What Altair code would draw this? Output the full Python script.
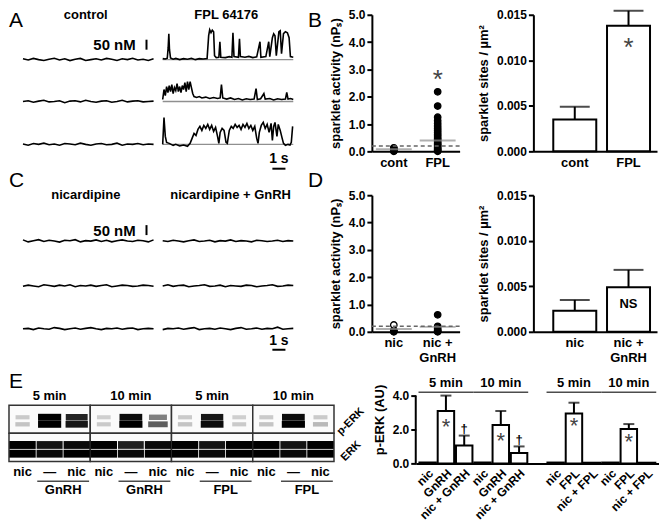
import altair as alt
import pandas as pd

FONT = "Liberation Sans"
GREY = "#8f8f8f"

# ---------------- Panels A and C: sparklet traces (nM above baseline) ----------------
TRACE_DT = 0.4  # s between samples of the quiet traces
control_1 = [4, -2, 6, 0, -4, 2, 7, -2, 4, -5, 2, 6, -4, 0, 4, -2, 6, 2, -4, 4, 0, 7, -2, 2, -4, 4]
control_2 = [0, 4, -4, 2, 6, -2, 0, 4, -6, 2, 4, -2, 6, 0, -4, 2, 4, -4, 0, 6, -2, 2, 4, -2, 0, 2]
control_3 = [2, -4, 4, 0, 6, -2, 2, -4, 4, 2, -2, 6, 0, -4, 2, 4, -2, 0, 6, -4, 2, 0, 4, -2, 2, 0]
nic_1 = [6, -4, 2, 7, -2, 4, 0, -5, 4, 2, 7, -4, 2, 0, 6, -2, 4, -4, 2, 6, 0, -2, 4, 2, -4, 6]
nic_2 = [-2, 4, 0, -4, 6, 2, -2, 4, 0, 6, -4, 2, 0, 4, -2, 2, 6, -4, 0, 4, 2, -2, 0, 4, 2, -2]
nic_3 = [0, 2, -4, 4, 0, -2, 6, 2, -4, 0, 4, -2, 2, 6, 0, -4, 2, 0, 4, -2, 2, 4, -4, 0, 2, 0]
nic_gnrh_1 = [2, -2, 4, 0, -4, 2, 6, -2, 0, 4, -4, 2, 0, 6, -2, 2, 0, -4, 4, 2, -2, 0, 4, -2, 2, 0]
nic_gnrh_2 = [0, 6, -2, 2, 4, -4, 0, 2, 6, -2, 0, 4, -4, 2, 0, -2, 4, 2, -4, 0, 2, 6, -2, 0, 4, 2]
nic_gnrh_3 = [-4, 2, 0, 4, -2, 2, 6, -4, 0, 2, -2, 4, 0, -4, 2, 6, -2, 0, 4, -2, 2, 0, 8, -2, 0, 2]

# FPL 64176 traces: (time s, nM)
fpl_1 = [(0.0, 5), (0.2, 3), (0.35, 7), (0.42, 60), (0.47, 130), (0.52, 50), (0.6, 8), (0.8, 2),
         (1.0, 6), (1.3, 0), (1.6, 5), (1.9, 2), (2.2, 7), (2.5, 0), (2.8, 5), (3.1, 3), (3.4, 6),
         (3.52, 120), (3.6, 150), (3.7, 135), (3.8, 148), (3.9, 140), (3.97, 20), (4.1, 10),
         (4.3, 12), (4.38, 90), (4.45, 12), (4.8, 10), (5.1, 15), (5.3, 12), (5.38, 135),
         (5.46, 15), (5.8, 12), (5.88, 105), (5.95, 15), (6.3, 12), (6.6, 16), (6.9, 10),
         (7.2, 14), (7.45, 90), (7.52, 12), (7.9, 15), (8.12, 90), (8.2, 15), (8.4, 110),
         (8.5, 130), (8.6, 120), (8.7, 20), (8.9, 140), (9.0, 145), (9.1, 30), (9.25, 130),
         (9.4, 140), (9.55, 135), (9.68, 110), (9.78, 15), (10.0, 12)]
fpl_2 = [(0.0, 10), (0.1, 60), (0.2, 30), (0.3, 75), (0.4, 45), (0.5, 80), (0.6, 50), (0.7, 85),
         (0.8, 40), (0.9, 70), (1.0, 55), (1.1, 90), (1.2, 50), (1.3, 75), (1.4, 45), (1.5, 80),
         (1.6, 60), (1.7, 95), (1.8, 50), (1.9, 100), (2.0, 60), (2.1, 100), (2.2, 70), (2.3, 40),
         (2.4, 25), (2.6, 20), (2.8, 25), (3.0, 18), (3.3, 22), (3.6, 15), (3.9, 20), (4.2, 15),
         (4.4, 18), (4.5, 85), (4.6, 18), (4.9, 12), (5.2, 18), (5.5, 10), (5.8, 15), (6.1, 8),
         (6.4, 14), (6.7, 10), (7.0, 12), (7.15, 65), (7.25, 10), (7.5, 14), (7.75, 40),
         (7.85, 12), (8.2, 15), (8.5, 8), (8.8, 14), (9.1, 10), (9.4, 12), (9.5, 45), (9.6, 12),
         (9.8, 15), (10.0, 10)]
fpl_3 = [(0.0, 0), (0.1, 135), (0.2, 40), (0.3, 10), (0.5, 5), (0.8, -5), (1.0, 0), (1.3, -8),
         (1.6, -3), (1.9, -10), (2.1, 5), (2.25, 30), (2.4, 55), (2.55, 45), (2.7, 75), (2.85, 90),
         (3.0, 70), (3.15, 95), (3.3, 80), (3.45, 100), (3.6, 75), (3.75, 95), (3.9, 65),
         (4.05, 85), (4.2, 40), (4.3, 5), (4.4, 60), (4.55, 80), (4.7, 70), (4.85, 10), (4.95, 5),
         (5.1, 70), (5.25, 90), (5.4, 80), (5.55, 100), (5.7, 85), (5.85, 95), (6.0, 75),
         (6.15, 100), (6.3, 85), (6.45, 105), (6.6, 80), (6.75, 95), (6.9, 70), (7.05, 90),
         (7.2, 30), (7.3, 5), (7.4, 60), (7.55, 95), (7.7, 110), (7.85, 80), (8.0, 100),
         (8.15, 60), (8.3, 105), (8.4, 20), (8.5, 90), (8.6, 110), (8.75, 40), (8.85, 100),
         (9.0, 70), (9.15, 30), (9.25, 5), (9.4, -5), (9.6, 0), (9.75, -3), (9.85, 10), (9.95, 90)]

COL_GAP = 10.7  # s from the start of the left trace column to the right one

# ---------------- Panels B and D: scatter (nPs) and sparklet sites ----------------
b_cats = ["cont", "FPL"]
b_points_cont = [0.13, 0.10, 0.08, 0.06, 0.04, 0.02, 0.0]
b_points_fpl = [2.18, 1.66, 1.25, 1.12, 1.02, 0.93, 0.85, 0.77, 0.70, 0.63, 0.56, 0.49, 0.43,
                0.37, 0.31, 0.26, 0.21, 0.16, 0.11, 0.07, 0.03, 0.0]
b_means = [0.08, 0.40]
b_sites = [0.0035, 0.0138]
b_sites_top = [0.0049, 0.01544]

d_cats = ["nic", "nic +|GnRH"]
d_points_nic = [0.06, 0.02, 0.0]
d_points_nic_open = [0.25]
d_points_nicg = [0.62, 0.20, 0.12, 0.06, 0.02, 0.0]
d_means = [0.10, 0.18]
d_sites = [0.0023, 0.0049]
d_sites_top = [0.0035, 0.0068]

THRESHOLD = 0.2

# ---------------- Panel E ----------------
perk_labels = ["nic", "GnRH", "nic + GnRH", "nic", "GnRH", "nic + GnRH",
               "nic", "FPL", "nic + FPL", "nic", "FPL", "nic + FPL"]
perk_mean = [0.06, 3.09, 1.06, 0.05, 2.26, 0.62, 0.05, 2.95, 0.04, 0.05, 2.03, 0.04]
perk_top = [None, 4.0, 1.64, None, 3.09, 1.00, None, 3.58, None, None, 2.32, None]
perk_note = ["", "*", "†", "", "*", "†", "", "*", "", "", "*", ""]
perk_note_y = [None, 2.36, 2.03, None, 1.57, 1.38, None, 2.42, None, None, 1.48, None]
time_groups = ["5 min", "10 min", "5 min", "10 min"]
treat_groups = ["GnRH", "GnRH", "FPL", "FPL"]
lane_labels = ["nic", "—", "nic"]

# blot band intensities (0 = none, 1 = saturated), 12 lanes
perk_p44 = [0.12, 1.0, 0.85, 0.10, 0.95, 0.45, 0.12, 0.9, 0.10, 0.12, 0.95, 0.12]
perk_p42 = [0.15, 1.0, 0.90, 0.12, 1.0, 0.60, 0.15, 0.95, 0.12, 0.15, 1.0, 0.20]
erk_p44 = [1.0, 0.9, 0.95, 1.0, 0.85, 0.95, 1.0, 0.9, 1.0, 1.0, 0.9, 1.0]
erk_p42 = [1.0, 0.95, 1.0, 1.0, 0.95, 1.0, 1.0, 0.95, 1.0, 1.0, 0.95, 1.0]
band_rows = {"p44_p": 0.86, "p42_p": 1.36, "p44_t": 2.83, "p42_t": 3.45}  # migration, blot units
BAND_SHAPE = "M-1,-0.3L1,-0.3L1,0.3L-1,0.3Z"


def label_at(txt, x, y, size=21, weight="normal", angle=0, align="left"):
    return alt.Chart(pd.DataFrame({"t": [txt]})).mark_text(
        fontSize=size, fontWeight=weight, align=align, baseline="alphabetic", fill="black", angle=angle
    ).encode(x=alt.value(x), y=alt.value(y), text="t:N")


def trace_panel(left, right, heads, head_t, row_base, ydom, bar_y, bar_label_y, one_s_text_y,
                one_s_bar_y, grey_right, letter_ch, letter_y, head_y):
    rows = []
    for col, traces in enumerate([left, right]):
        for r, tr in enumerate(traces):
            for t, v in tr:
                rows.append({"t": t + col * COL_GAP, "nM": v + row_base[r], "trace": f"{col}-{r}"})
    df = pd.DataFrame(rows)
    xs = alt.Scale(domain=[-1.07, 21.07], nice=False, zero=False)
    ys = alt.Scale(domain=ydom, nice=False, zero=False)
    X = alt.X("t:Q", scale=xs, axis=None)
    layers = []
    if grey_right:
        g = pd.DataFrame({"t": [COL_GAP] * 3, "t2": [COL_GAP + 10] * 3, "nM": row_base})
        layers.append(alt.Chart(g).mark_rule(color=GREY, strokeWidth=1.3).encode(
            x=X, x2="t2:Q", y=alt.Y("nM:Q", scale=ys, axis=None)))
    layers.append(alt.Chart(df).mark_line(color="black", strokeWidth=1.6).encode(
        x=X, y=alt.Y("nM:Q", scale=ys, axis=None), detail="trace:N"))
    hd = pd.DataFrame({"t": head_t, "label": heads})
    layers.append(alt.Chart(hd).mark_text(fontSize=13, fontWeight="bold", baseline="alphabetic").encode(
        x=X, y=alt.value(head_y), text="label:N"))
    sb = pd.DataFrame({"t": [9.46], "lo": [bar_y[0]], "hi": [bar_y[1]], "lab_t": [8.63],
                       "lab_y": [bar_label_y], "label": ["50 nM"]})
    layers.append(alt.Chart(sb).mark_rule(strokeWidth=2, color="black").encode(
        x=X, y=alt.Y("lo:Q", scale=ys, axis=None), y2="hi:Q"))
    layers.append(alt.Chart(sb).mark_text(fontSize=15, fontWeight="bold", align="right",
                                          baseline="alphabetic").encode(
        x=alt.X("lab_t:Q", scale=xs, axis=None), y=alt.Y("lab_y:Q", scale=ys, axis=None), text="label:N"))
    ts = pd.DataFrame({"t": [19.1], "t2": [20.1], "mid": [19.6], "bar": [one_s_bar_y],
                       "ty": [one_s_text_y], "label": ["1 s"]})
    layers.append(alt.Chart(ts).mark_rule(strokeWidth=2, color="black").encode(
        x=X, x2="t2:Q", y=alt.Y("bar:Q", scale=ys, axis=None)))
    layers.append(alt.Chart(ts).mark_text(fontSize=14, fontWeight="bold", baseline="alphabetic").encode(
        x=alt.X("mid:Q", scale=xs, axis=None), y=alt.Y("ty:Q", scale=ys, axis=None), text="label:N"))
    layers.append(label_at(letter_ch, 0, letter_y))
    return alt.layer(*layers).properties(width=290, height=137)


AX_X = dict(title=None, ticks=False, labelAngle=0, labelPadding=5, labelFontSize=13,
            labelExpr="split(datum.value, '|')", domainWidth=2)


def scatter_panel(cats, pts, means, star_y, letter_ch, letter_y):
    df = pd.DataFrame(pts, columns=["cat", "v", "fill"])
    xs = alt.Scale(domain=cats, paddingInner=0, paddingOuter=0)
    ys = alt.Scale(domain=[0, 5], nice=False)
    X = alt.X("cat:N", scale=xs, axis=alt.Axis(**AX_X))
    Y = alt.Y("v:Q", scale=ys, axis=alt.Axis(title="sparklet activity (nPₛ)", values=[0, 1, 2, 3, 4, 5],
                                             format=".1f", titlePadding=6))
    m = pd.DataFrame({"cat": cats, "v": means})
    thr = pd.DataFrame({"v": [THRESHOLD]})
    layers = [
        alt.Chart(df).mark_point(filled=True, size=42, stroke="black", strokeWidth=1.3, opacity=1).encode(
            x=X, y=Y, fill=alt.Fill("fill:N", scale=None)),
        alt.Chart(m).mark_tick(size=36, thickness=2, color=GREY).encode(x=X, y=Y),
        alt.Chart(thr).mark_rule(strokeDash=[4, 3], strokeWidth=1.5, color="#666").encode(y=Y),
    ]
    if star_y is not None:
        s = pd.DataFrame({"cat": [cats[1]], "v": [star_y], "t": ["*"]})
        layers.append(alt.Chart(s).mark_text(fontSize=26, fill="#444", dy=4).encode(x=X, y=Y, text="t:N"))
    layers.append(label_at(letter_ch, -64, letter_y))
    return alt.layer(*layers).properties(width=88, height=137)


def bar_panel(cats, vals, tops, note, note_y):
    xs = alt.Scale(domain=cats, paddingInner=0.2, paddingOuter=0.25, align=0.74)
    ys = alt.Scale(domain=[0, 0.015], nice=False)
    X = alt.X("cat:N", scale=xs, axis=alt.Axis(**AX_X))
    Y = alt.Y("v:Q", scale=ys, axis=alt.Axis(title="sparklet sites / µm²", values=[0, 0.005, 0.01, 0.015],
                                             format=".3f", titlePadding=6))
    df = pd.DataFrame({"cat": cats, "v": vals, "top": tops})
    n = pd.DataFrame({"cat": [cats[1]], "v": [note_y], "t": [note]})
    layers = [
        alt.Chart(df).mark_rule(strokeWidth=2, color="black").encode(x=X, y=Y, y2="top:Q"),
        alt.Chart(df).mark_tick(size=30, thickness=2, color="black").encode(
            x=X, y=alt.Y("top:Q", scale=ys)),
        alt.Chart(df).mark_bar(fill="white", stroke="black", strokeWidth=2).encode(x=X, y=Y),
    ]
    if note == "*":
        layers.append(alt.Chart(n).mark_text(fontSize=26, fill="#444", dy=4).encode(x=X, y=Y, text="t:N"))
    else:
        layers.append(alt.Chart(n).mark_text(fontSize=13, fontWeight="bold", fill="black").encode(
            x=X, y=Y, text="t:N"))
    return alt.layer(*layers).properties(width=124, height=137)


# ---------------- build A, B, C, D ----------------
quiet = lambda vals: [(i * TRACE_DT, v) for i, v in enumerate(vals)]

panel_a = trace_panel([quiet(control_1), quiet(control_2), quiet(control_3)], [fpl_1, fpl_2, fpl_3],
                      ["control", "FPL 64176"], [4.81, 15.57], [425, 215, 0], [-35, 650],
                      (475, 525), 472, -95, -122, True, "A", 12, 4)
b_pts = [("cont", v, "black") for v in b_points_cont] + [("FPL", v, "black") for v in b_points_fpl]
panel_b1 = scatter_panel(b_cats, b_pts, b_means, 2.75, "B", 12)
panel_b2 = bar_panel(b_cats, b_sites, b_sites_top, "*", 0.0118)

panel_c = trace_panel([quiet(nic_1), quiet(nic_2), quiet(nic_3)],
                      [quiet(nic_gnrh_1), quiet(nic_gnrh_2), quiet(nic_gnrh_3)],
                      ["nicardipine", "nicardipine + GnRH"], [4.81, 15.9], [420, 195, -20], [-35, 650],
                      (450, 500), 447, -100, -125, False, "C", -8, 4)
d_pts = ([("nic", v, "black") for v in d_points_nic] + [("nic", v, "white") for v in d_points_nic_open]
         + [("nic +|GnRH", v, "black") for v in d_points_nicg])
panel_d1 = scatter_panel(d_cats, d_pts, d_means, None, "D", -8)
panel_d2 = bar_panel(d_cats, d_sites, d_sites_top, "NS", 0.0031)

# ---------------- E: blots ----------------
lx = alt.Scale(domain=[-0.5, 11.5], nice=False, zero=False)
by = alt.Scale(domain=[-2.1, 4.14], reverse=True, nice=False, zero=False)
LX = alt.X("lane:Q", scale=lx, axis=None)
BY = alt.Y("y:Q", scale=by, axis=None)

boxes = pd.DataFrame({
    "lane": [3 * k - 0.5 for k in range(4)] * 2,
    "lane2": [3 * k + 2.5 for k in range(4)] * 2,
    "y": [0] * 4 + [2] * 4, "y2": [2] * 4 + [4] * 4})
perk_df = pd.DataFrame(
    [{"lane": i, "y": band_rows["p44_p"], "v": perk_p44[i]} for i in range(12)]
    + [{"lane": i, "y": band_rows["p42_p"], "v": perk_p42[i]} for i in range(12)])
erk_df = pd.DataFrame(
    [{"lane": i, "y": band_rows["p44_t"], "v": erk_p44[i]} for i in range(12)]
    + [{"lane": i, "y": band_rows["p42_t"], "v": erk_p42[i]} for i in range(12)])
head_df = pd.DataFrame({"lane": [3 * k + 1 for k in range(4)], "label": time_groups})
lane_df = pd.DataFrame({"lane": list(range(12)), "label": lane_labels * 4})
treat_df = pd.DataFrame({"lane": [3 * k + 1.5 for k in range(4)], "label": treat_groups})

blot = alt.layer(
    alt.Chart(boxes).mark_rect(fill="#fbfbfb", stroke="#333", strokeWidth=1.5).encode(
        x=LX, x2="lane2:Q", y=BY, y2="y2:Q"),
    alt.Chart(perk_df).mark_point(shape=BAND_SHAPE, filled=True, color="black", strokeWidth=0).encode(
        x=LX, y=BY,
        size=alt.Size("v:Q", scale=alt.Scale(domain=[0, 1], range=[150, 540]), legend=None),
        opacity=alt.Opacity("v:Q", scale=alt.Scale(domain=[0, 1], range=[0.08, 1]), legend=None)),
    alt.Chart(erk_df).mark_point(shape=BAND_SHAPE, filled=True, color="black", strokeWidth=0).encode(
        x=LX, y=BY,
        size=alt.Size("v:Q", scale=alt.Scale(domain=[0, 1], range=[500, 700]), legend=None),
        opacity=alt.Opacity("v:Q", scale=alt.Scale(domain=[0, 1], range=[0.2, 1]), legend=None)),
    alt.Chart(head_df).mark_text(fontSize=13, fontWeight="bold", baseline="alphabetic").encode(
        x=LX, y=alt.value(24), text="label:N"),
    alt.Chart(lane_df).mark_text(fontSize=13, fontWeight="bold", baseline="alphabetic").encode(
        x=LX, y=alt.value(101), text="label:N"),
    alt.Chart(treat_df).mark_tick(orient="horizontal", size=52, thickness=1.5, color="black").encode(
        x=LX, y=alt.value(106)),
    alt.Chart(treat_df).mark_text(fontSize=13, fontWeight="bold", baseline="alphabetic").encode(
        x=LX, y=alt.value(119), text="label:N"),
    label_at("p-ERK", 333, 60, size=11, weight="bold", angle=315),
    label_at("ERK", 337, 86, size=11, weight="bold", angle=315),
    label_at("E", 0, 12),
).resolve_scale(size="independent", opacity="independent").properties(width=326, height=88)

# ---------------- E: bar chart ----------------
slots = [i + (1 if i >= 6 else 0) for i in range(12)]
slot_labels = perk_labels[:6] + [""] + perk_labels[6:]
ex = alt.Scale(domain=list(range(13)), paddingInner=0.1, paddingOuter=0.2)
ey = alt.Scale(domain=[0, 5.176], nice=False)
label_expr = "[" + ",".join("'" + s + "'" for s in slot_labels) + "][datum.value]"
EX = alt.X("slot:O", scale=ex, axis=alt.Axis(title=None, ticks=False, labelAngle=-45, labelFontSize=12,
                                            labelExpr=label_expr, labelOverlap=False, labelPadding=4))
EY = alt.Y("v:Q", scale=ey, axis=alt.Axis(title="p-ERK (AU)", values=[0, 1, 2, 3, 4], format=".1f",
                                         domain=False, titlePadding=6))
e_df = pd.DataFrame({"slot": slots, "v": perk_mean, "top": perk_top, "note": perk_note, "ny": perk_note_y})
e_err = e_df.dropna(subset=["top"])
e_notes = e_df.dropna(subset=["ny"])
g_df = pd.DataFrame({"slot": [1, 4, 8, 11], "label": time_groups, "ly": [4.2] * 4, "ty": [4.5] * 4})
axis_df = pd.DataFrame({"v": [0], "top": [4]})

ebar = alt.layer(
    alt.Chart(axis_df).mark_rule(strokeWidth=2, color="black").encode(x=alt.value(0), y=EY, y2="top:Q"),
    alt.Chart(e_err).mark_rule(strokeWidth=2, color="black").encode(x=EX, y=EY, y2="top:Q"),
    alt.Chart(e_err).mark_tick(size=11, thickness=2, color="black").encode(x=EX, y=alt.Y("top:Q", scale=ey)),
    alt.Chart(e_df).mark_bar(fill="white", stroke="black", strokeWidth=2).encode(x=EX, y=EY),
    alt.Chart(e_notes[e_notes.note == "*"]).mark_text(fontSize=22, fill="#444", dy=4).encode(
        x=EX, y=alt.Y("ny:Q", scale=ey), text="note:N"),
    alt.Chart(e_notes[e_notes.note == "†"]).mark_text(fontSize=13, fill="black", fontWeight="bold").encode(
        x=EX, y=alt.Y("ny:Q", scale=ey), text="note:N"),
    alt.Chart(g_df).mark_tick(orient="horizontal", size=55, thickness=1.5, color="black").encode(
        x=EX, y=alt.Y("ly:Q", scale=ey)),
    alt.Chart(g_df).mark_text(fontSize=13, fontWeight="bold", baseline="alphabetic").encode(
        x=EX, y=alt.Y("ty:Q", scale=ey), text="label:N"),
).properties(width=244, height=88)

row1 = alt.hconcat(panel_a, panel_b1, panel_b2, spacing=74, bounds="flush")
row2 = alt.hconcat(panel_c, panel_d1, panel_d2, spacing=74, bounds="flush")
row3 = alt.hconcat(blot, ebar, spacing=82, bounds="flush")

chart = alt.vconcat(alt.vconcat(row1, row2, spacing=0), row3, spacing=6).properties(padding=0).configure_view(
    stroke=None
).configure_axis(
    labelFont=FONT, titleFont=FONT, labelFontSize=12, labelFontWeight="bold", titleFontSize=13,
    titleFontWeight="bold", labelColor="black", titleColor="black", domainColor="black",
    domainWidth=2, tickColor="black", tickWidth=2, tickSize=5, grid=False,
).configure_text(font=FONT)

chart.save("out.html", embed_options={"renderer": "svg", "actions": False})
